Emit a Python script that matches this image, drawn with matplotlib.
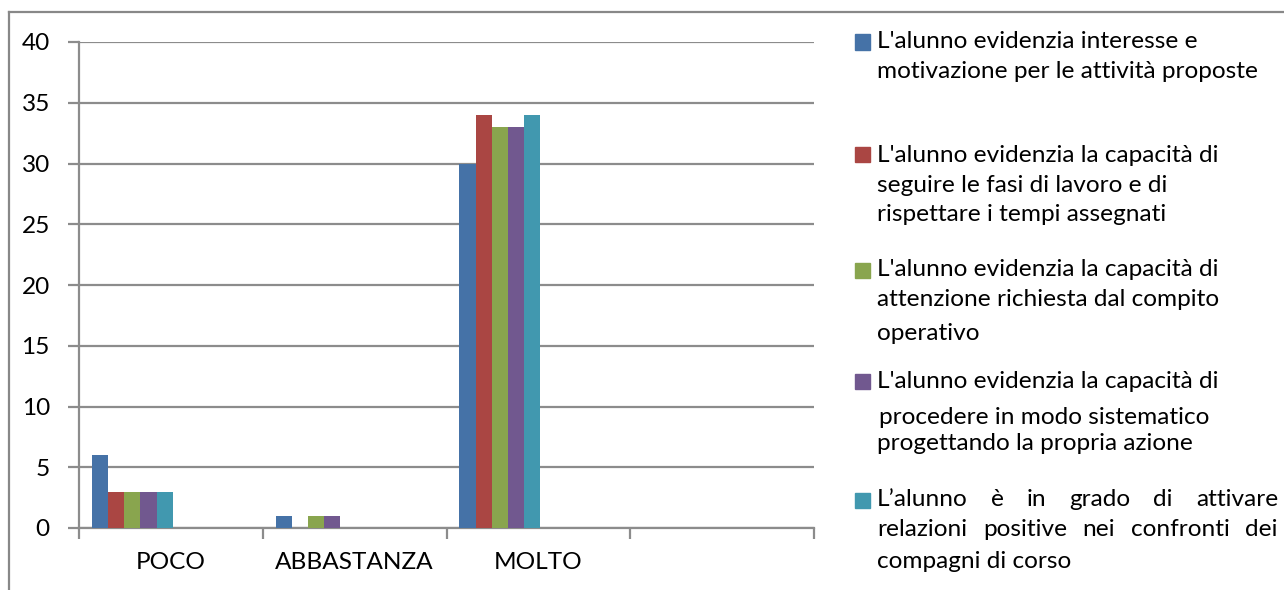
import matplotlib
matplotlib.use("Agg")
import matplotlib.pyplot as plt
import numpy as np
from matplotlib.patches import Rectangle
from matplotlib.lines import Line2D

categories = ["POCO", "ABBASTANZA", "MOLTO", ""]
series_names = [
    "L'alunno evidenzia interesse e\nmotivazione per le attività proposte",
    "L'alunno evidenzia la capacità di\nseguire le fasi di lavoro e di\nrispettare i tempi assegnati",
    "L'alunno evidenzia la capacità di\nattenzione richiesta dal compito\noperativo",
    "L'alunno evidenzia la capacità di\nprocedere in modo sistematico\nprogettando la propria azione",
    "L’alunno è in grado di attivare\nrelazioni positive nei confronti dei\ncompagni di corso",
]
s1 = [6, 1, 30, np.nan]
s2 = [3, np.nan, 34, np.nan]
s3 = [3, 1, 33, np.nan]
s4 = [3, 1, 33, np.nan]
s5 = [3, np.nan, 34, np.nan]
series_values = [s1, s2, s3, s4, s5]
colors = ["#4572A7", "#AA4643", "#89A54E", "#71588F", "#4198AF"]
y_ticks = [0, 5, 10, 15, 20, 25, 30, 35, 40]

W, H = 1284, 590
FONT = "Lato"
FS = 17.6
GRID = "#8c8c8c"

fig = plt.figure(figsize=(W / 100, H / 100), dpi=100)

def fx(px):
    return px / W

def fy(py):
    return 1 - py / H

ax = fig.add_axes([fx(79), fy(528), fx(814) - fx(79), fy(42) - fy(528)])
x = np.arange(len(categories))
bw = 0.088
start = -0.5 + 13 / 184
for k, (vals, c) in enumerate(zip(series_values, colors)):
    ax.bar(x + start + bw * (k + 0.5), vals, width=bw, color=c, zorder=3)

ax.set_xlim(-0.5, len(categories) - 0.5)
ax.set_ylim(0, 40)
ax.set_yticks(y_ticks)
ax.set_yticklabels([str(v) for v in y_ticks], fontsize=FS, family=FONT)
ax.yaxis.grid(True, color=GRID, linewidth=1.6, zorder=0)
ax.set_xticks(np.arange(len(categories) + 1) - 0.5)
ax.set_xticklabels([])
ax.set_xticks(x, minor=True)
ax.set_xticklabels(categories, minor=True, fontsize=FS, family=FONT)
ax.tick_params(axis="x", which="minor", length=0, pad=17)
ax.tick_params(axis="x", which="major", length=8, width=1.6, color=GRID, direction="out")
ax.tick_params(axis="y", length=8, width=1.6, color=GRID, direction="out", pad=13)
for s in ["top", "right"]:
    ax.spines[s].set_visible(False)
for s in ["left", "bottom"]:
    ax.spines[s].set_color(GRID)
    ax.spines[s].set_linewidth(1.6)

# outer chart frame (left and top edges visible)
fig.add_artist(Line2D([fx(9), fx(9)], [fy(12), 0], color="#888888", lw=1.6, transform=fig.transFigure))
fig.add_artist(Line2D([fx(9), 1], [fy(12), fy(12)], color="#888888", lw=1.6, transform=fig.transFigure))

# legend
entry_lines_y = [
    [42, 72],
    [155, 185, 215],
    [270, 300, 333],
    [381, 417, 444],
    [500, 530, 562],
]
tx = 877
renderer = fig.canvas.get_renderer()
for i, (name, c, ys) in enumerate(zip(series_names, colors, entry_lines_y)):
    fig.add_artist(Rectangle((fx(855), fy(ys[0] + 7.5)), fx(15), 15 / H, color=c, transform=fig.transFigure))
    lines = name.split("\n")
    for j, (ln, yy) in enumerate(zip(lines, ys)):
        justify = (i == 4 and j < 2)
        if not justify:
            xoff = 2 if (i == 3 and j == 1) else 0
            fig.text(fx(tx + xoff), fy(yy), ln, fontsize=FS, family=FONT, va="center", ha="left")
        else:
            words = ln.split(" ")
            ts = [fig.text(0, fy(yy), w_, fontsize=FS, family=FONT, va="center", ha="left") for w_ in words]
            widths = [t.get_window_extent(renderer).width for t in ts]
            right = 1278
            gap = (right - tx - sum(widths)) / (len(words) - 1)
            cur = tx
            for t, wd in zip(ts, widths):
                t.set_x(fx(cur))
                cur += wd + gap

fig.savefig("out.png", dpi=100)
